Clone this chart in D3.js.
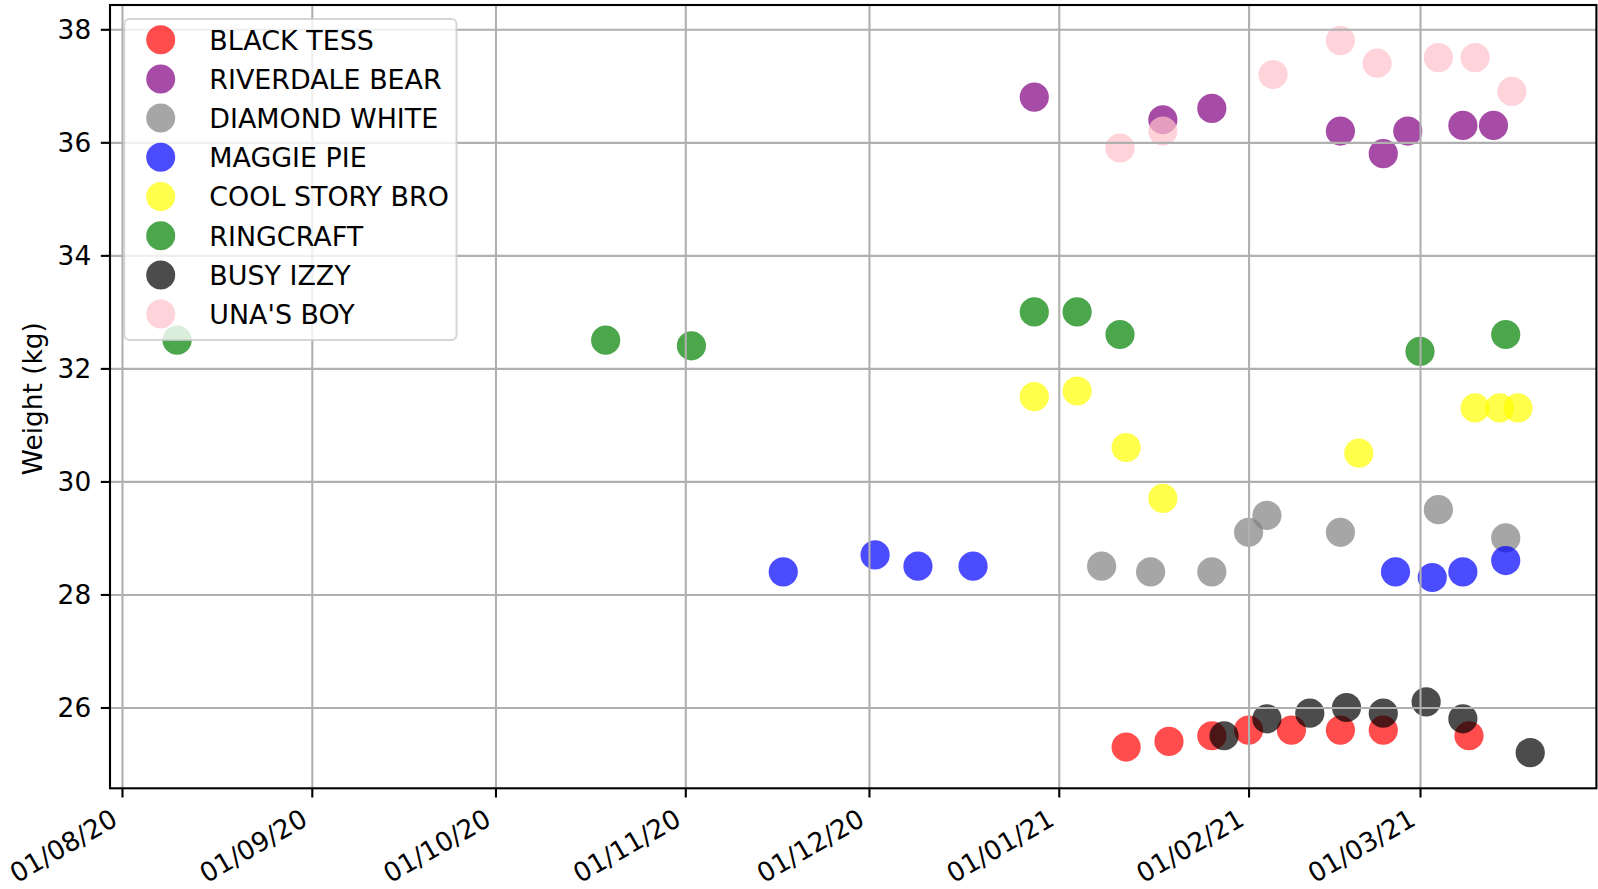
<!DOCTYPE html>
<html>
<head>
<meta charset="utf-8">
<script src="https://cdn.jsdelivr.net/npm/d3@7"></script>
<style>
  body { margin: 0; background: #fff; }
  svg { display: block; }
  text { font-family: "DejaVu Sans", sans-serif; fill: #000; }
</style>
</head>
<body>
<svg id="chart" width="1598" height="889"></svg>
<script>
// ---------------- DATA ----------------
const seriesNames = ["BLACK TESS", "RIVERDALE BEAR", "DIAMOND WHITE", "MAGGIE PIE",
                     "COOL STORY BRO", "RINGCRAFT", "BUSY IZZY", "UNA'S BOY"];

const blackTessDates   = ["2021-01-12","2021-01-19","2021-01-26","2021-02-01","2021-02-08","2021-02-16","2021-02-23","2021-03-09"];
const blackTessWeights = [25.3, 25.4, 25.5, 25.6, 25.6, 25.6, 25.6, 25.5];

const riverdaleBearDates   = ["2020-12-28","2021-01-18","2021-01-26","2021-02-16","2021-02-23","2021-02-27","2021-03-08","2021-03-13"];
const riverdaleBearWeights = [36.8, 36.4, 36.6, 36.2, 35.8, 36.2, 36.3, 36.3];

const diamondWhiteDates   = ["2021-01-08","2021-01-16","2021-01-26","2021-02-01","2021-02-04","2021-02-16","2021-03-04","2021-03-15"];
const diamondWhiteWeights = [28.5, 28.4, 28.4, 29.1, 29.4, 29.1, 29.5, 29.0];

const maggiePieDates   = ["2020-11-17","2020-12-02","2020-12-09","2020-12-18","2021-02-25","2021-03-03","2021-03-08","2021-03-15"];
const maggiePieWeights = [28.4, 28.7, 28.5, 28.5, 28.4, 28.3, 28.4, 28.6];

const coolStoryBroDates   = ["2020-12-28","2021-01-04","2021-01-12","2021-01-18","2021-02-19","2021-03-10","2021-03-14","2021-03-17"];
const coolStoryBroWeights = [31.5, 31.6, 30.6, 29.7, 30.5, 31.3, 31.3, 31.3];

const ringcraftDates   = ["2020-08-10","2020-10-19","2020-11-02","2020-12-28","2021-01-04","2021-01-11","2021-03-01","2021-03-15"];
const ringcraftWeights = [32.5, 32.5, 32.4, 33.0, 33.0, 32.6, 32.3, 32.6];

const busyIzzyDates   = ["2021-01-28","2021-02-04","2021-02-11","2021-02-17","2021-02-23","2021-03-02","2021-03-08","2021-03-19"];
const busyIzzyWeights = [25.5, 25.8, 25.9, 26.0, 25.9, 26.1, 25.8, 25.2];

const unasBoyDates   = ["2021-01-11","2021-01-18","2021-02-05","2021-02-16","2021-02-22","2021-03-04","2021-03-10","2021-03-16"];
const unasBoyWeights = [35.9, 36.2, 37.2, 37.8, 37.4, 37.5, 37.5, 36.9];

const xTickDates = ["2020-08-01","2020-09-01","2020-10-01","2020-11-01","2020-12-01","2021-01-01","2021-02-01","2021-03-01"];
const yTickValues = [26, 28, 30, 32, 34, 36, 38];
const yAxisLabel = "Weight (kg)";

// ---------------- STYLE ----------------
const seriesColors = ["#ff0000", "#800080", "#808080", "#0000ff", "#ffff00", "#008000", "#000000", "#ffc0cb"];

const allDates = [blackTessDates, riverdaleBearDates, diamondWhiteDates, maggiePieDates,
                  coolStoryBroDates, ringcraftDates, busyIzzyDates, unasBoyDates];
const allWeights = [blackTessWeights, riverdaleBearWeights, diamondWhiteWeights, maggiePieWeights,
                    coolStoryBroWeights, ringcraftWeights, busyIzzyWeights, unasBoyWeights];

const parse = d3.utcParse("%Y-%m-%d");
const FS = 26.4;
const LFS = 26.9;
const LW = 2.1;

const L = 110, R = 1596.4, T = 5, B = 788.3;

const svg = d3.select("#chart");

const x = d3.scaleUtc()
  .domain([new Date(Date.UTC(2020, 6, 30, 1)), new Date(Date.UTC(2021, 2, 29, 19, 26))])
  .range([L, R]);
const y = d3.scaleLinear().domain([24.57, 38.43]).range([B, T]);

// white axes background
svg.append("rect").attr("x", L).attr("y", T).attr("width", R - L).attr("height", B - T).attr("fill", "#fff");

// points
const pts = svg.append("g");
seriesNames.forEach((name, i) => {
  pts.append("g").selectAll("circle")
    .data(d3.zip(allDates[i], allWeights[i]))
    .join("circle")
    .attr("cx", d => x(parse(d[0])))
    .attr("cy", d => y(d[1]))
    .attr("r", 14.6)
    .attr("fill", seriesColors[i])
    .attr("fill-opacity", 0.7);
});

// grid (drawn above points, as matplotlib does by default)
const grid = svg.append("g");
grid.append("g").attr("transform", `translate(0,${B})`)
  .call(d3.axisBottom(x).tickValues(xTickDates.map(parse)).tickSize(-(B - T)).tickFormat(""))
  .call(g => g.select(".domain").remove())
  .call(g => g.selectAll("line").attr("stroke", "#b0b0b0").attr("stroke-width", LW));
grid.append("g").attr("transform", `translate(${L},0)`)
  .call(d3.axisLeft(y).tickValues(yTickValues).tickSize(-(R - L)).tickFormat(""))
  .call(g => g.select(".domain").remove())
  .call(g => g.selectAll("line").attr("stroke", "#b0b0b0").attr("stroke-width", LW));

// x axis
const xAxis = svg.append("g").attr("transform", `translate(0,${B})`)
  .call(d3.axisBottom(x).tickValues(xTickDates.map(parse)).tickSize(9.2).tickFormat(d3.utcFormat("%d/%m/%y")));
xAxis.select(".domain").remove();
xAxis.selectAll("line").attr("stroke", "#000").attr("stroke-width", LW);
xAxis.selectAll("text")
  .attr("font-size", FS).attr("font-family", "DejaVu Sans")
  .attr("text-anchor", "end").attr("x", 0).attr("y", 0).attr("dy", 0)
  .attr("transform", "translate(-3.1,35.9) rotate(-30)");

// y axis
const yAxis = svg.append("g").attr("transform", `translate(${L},0)`)
  .call(d3.axisLeft(y).tickValues(yTickValues).tickSize(9.2).tickPadding(9.6).tickFormat(d3.format("d")));
yAxis.select(".domain").remove();
yAxis.selectAll("line").attr("stroke", "#000").attr("stroke-width", LW);
yAxis.selectAll("text").attr("font-size", FS).attr("font-family", "DejaVu Sans").attr("dy", "0.36em");

// spines
svg.append("rect").attr("x", L).attr("y", T).attr("width", R - L).attr("height", B - T)
  .attr("fill", "none").attr("stroke", "#000").attr("stroke-width", LW);

// y label
svg.append("text")
  .attr("transform", `translate(41.7,${(T + B) / 2 + 2}) rotate(-90)`)
  .attr("text-anchor", "middle")
  .attr("font-size", FS)
  .text(yAxisLabel);

// legend
const leg = svg.append("g");
leg.append("rect").attr("x", 124.3).attr("y", 19).attr("width", 332.2).attr("height", 321)
  .attr("rx", 5).attr("fill", "#fff").attr("fill-opacity", 0.8)
  .attr("stroke", "#cccccc").attr("stroke-opacity", 0.8).attr("stroke-width", 2);
const rowY = d3.scaleLinear().domain([0, 7]).range([39.7, 314.1]);
seriesNames.forEach((name, i) => {
  leg.append("circle").attr("cx", 160.7).attr("cy", rowY(i)).attr("r", 14.5)
    .attr("fill", seriesColors[i]).attr("fill-opacity", 0.7);
  leg.append("text").attr("x", 209.3).attr("y", rowY(i) + 9.8)
    .attr("font-size", LFS).text(name);
});
</script>
</body>
</html>
